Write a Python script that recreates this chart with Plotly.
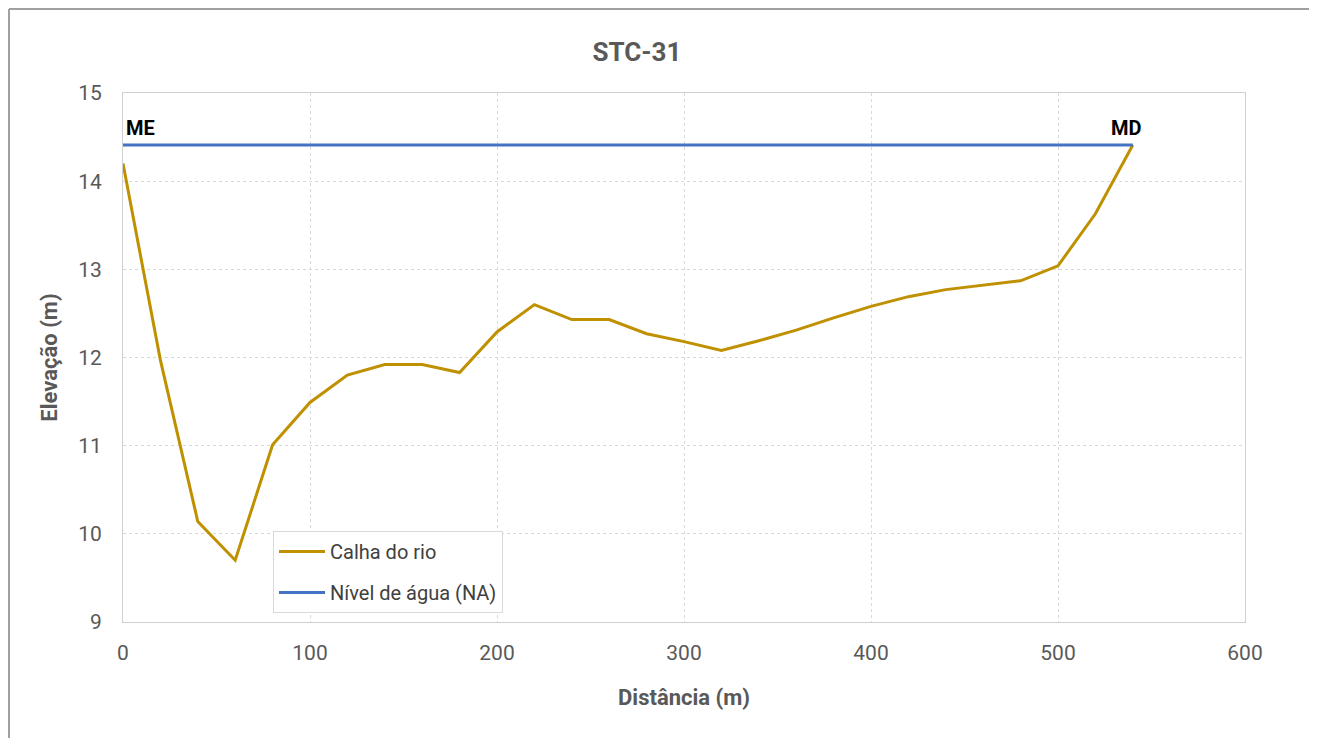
import plotly.graph_objects as go

# perfil transversal STC-31
distancia = [0, 20, 40, 60, 80, 100, 120, 140, 160, 180, 200, 220, 240, 260,
             280, 300, 320, 340, 360, 380, 400, 420, 440, 460, 480, 500, 520, 540]
elevacao = [14.20, 11.97, 10.14, 9.70, 11.01, 11.49, 11.80, 11.92, 11.92, 11.83,
            12.29, 12.60, 12.43, 12.43, 12.27, 12.18, 12.08, 12.19, 12.31, 12.45,
            12.58, 12.69, 12.77, 12.82, 12.87, 13.04, 13.63, 14.41]

na_x = [0, 540]
na_y = [14.41, 14.41]

margem_labels = ["ME", "MD"]

font_family = "Liberation Sans Narrow, Roboto, Arial"
gray_text = "#595959"

# page body has an 8px margin, so plot area offsets are relative to (8, 8)
L, T, PW, PH = 115, 85, 1122, 529

fig = go.Figure()

fig.add_trace(go.Scatter(
    x=distancia, y=elevacao, mode="lines", name="Calha do rio",
    legendgroup="calha", line=dict(color="#BF9000", width=3),
))
fig.add_trace(go.Scatter(
    x=na_x, y=na_y, mode="lines", name="Nível de água (NA)",
    legendgroup="na", line=dict(color="#4472C4", width=3),
))

# labels for the margins (left / right bank)
fig.add_annotation(x=na_x[0], y=na_y[0], text="<b>" + margem_labels[0] + "</b>",
                   showarrow=False, xanchor="left", yanchor="bottom", xshift=1, yshift=3,
                   font=dict(family=font_family, size=20, color="#000000"))
fig.add_annotation(x=na_x[1], y=na_y[1], text="<b>" + margem_labels[1] + "</b>",
                   showarrow=False, xanchor="center", yanchor="bottom", xshift=-6, yshift=3,
                   font=dict(family=font_family, size=20, color="#000000"))

# outer frame of the chart (open at the bottom)
fx0 = -(L - 1) / PW
fx1 = (1310 - 8 - L) / PW
fy1 = (PH + T - 1) / PH
fy0 = -(738 - 8 - T - PH) / PH - 0.02
frame = dict(color="#A0A0A0", width=2)
fig.add_shape(type="line", xref="paper", yref="paper", x0=fx0, x1=fx0, y0=fy0, y1=fy1, line=frame)
fig.add_shape(type="line", xref="paper", yref="paper", x0=fx0, x1=fx1, y0=fy1, y1=fy1, line=frame)
fig.add_shape(type="line", xref="paper", yref="paper", x0=fx1, x1=fx1, y0=fy0, y1=fy1, line=frame)

fig.update_layout(
    width=1317, height=738,
    margin=dict(l=L, r=1317 - L - PW, t=T, b=738 - T - PH),
    paper_bgcolor="white",
    plot_bgcolor="white",
    title=dict(text="<b>STC-31</b>", x=(637 - 8) / 1317, xanchor="center",
               y=1 - (52 - 8) / 738, yanchor="middle",
               font=dict(family=font_family, size=26, color=gray_text)),
    font=dict(family=font_family, color=gray_text),
    xaxis=dict(
        range=[0, 600], tickvals=[0, 100, 200, 300, 400, 500, 600],
        showgrid=True, gridcolor="#D9D9D9", griddash="dot",
        showline=True, linecolor="#D0D0D0", linewidth=1, mirror=True,
        zeroline=False, ticks="", ticklabelstandoff=12,
        tickfont=dict(size=21, color=gray_text),
        title=dict(text="<b>Distância (m)</b>", font=dict(size=22, color=gray_text), standoff=25),
    ),
    yaxis=dict(
        range=[9, 15], tickvals=[9, 10, 11, 12, 13, 14, 15],
        showgrid=True, gridcolor="#D9D9D9", griddash="dot",
        showline=True, linecolor="#D0D0D0", linewidth=1, mirror=True,
        zeroline=False, ticks="", ticklabelstandoff=16,
        tickfont=dict(size=21, color=gray_text),
        title=dict(text="<b>Elevação (m)</b>", font=dict(size=22, color=gray_text), standoff=14),
    ),
    legend=dict(
        x=(273 - 123) / PW, y=(622 - 531) / PH, xanchor="left", yanchor="top",
        bgcolor="white", bordercolor="#D9D9D9", borderwidth=1,
        font=dict(family=font_family, size=20, color="#404040"),
        traceorder="grouped", tracegroupgap=12, itemwidth=46,
    ),
)

fig.write_html("out.html")
